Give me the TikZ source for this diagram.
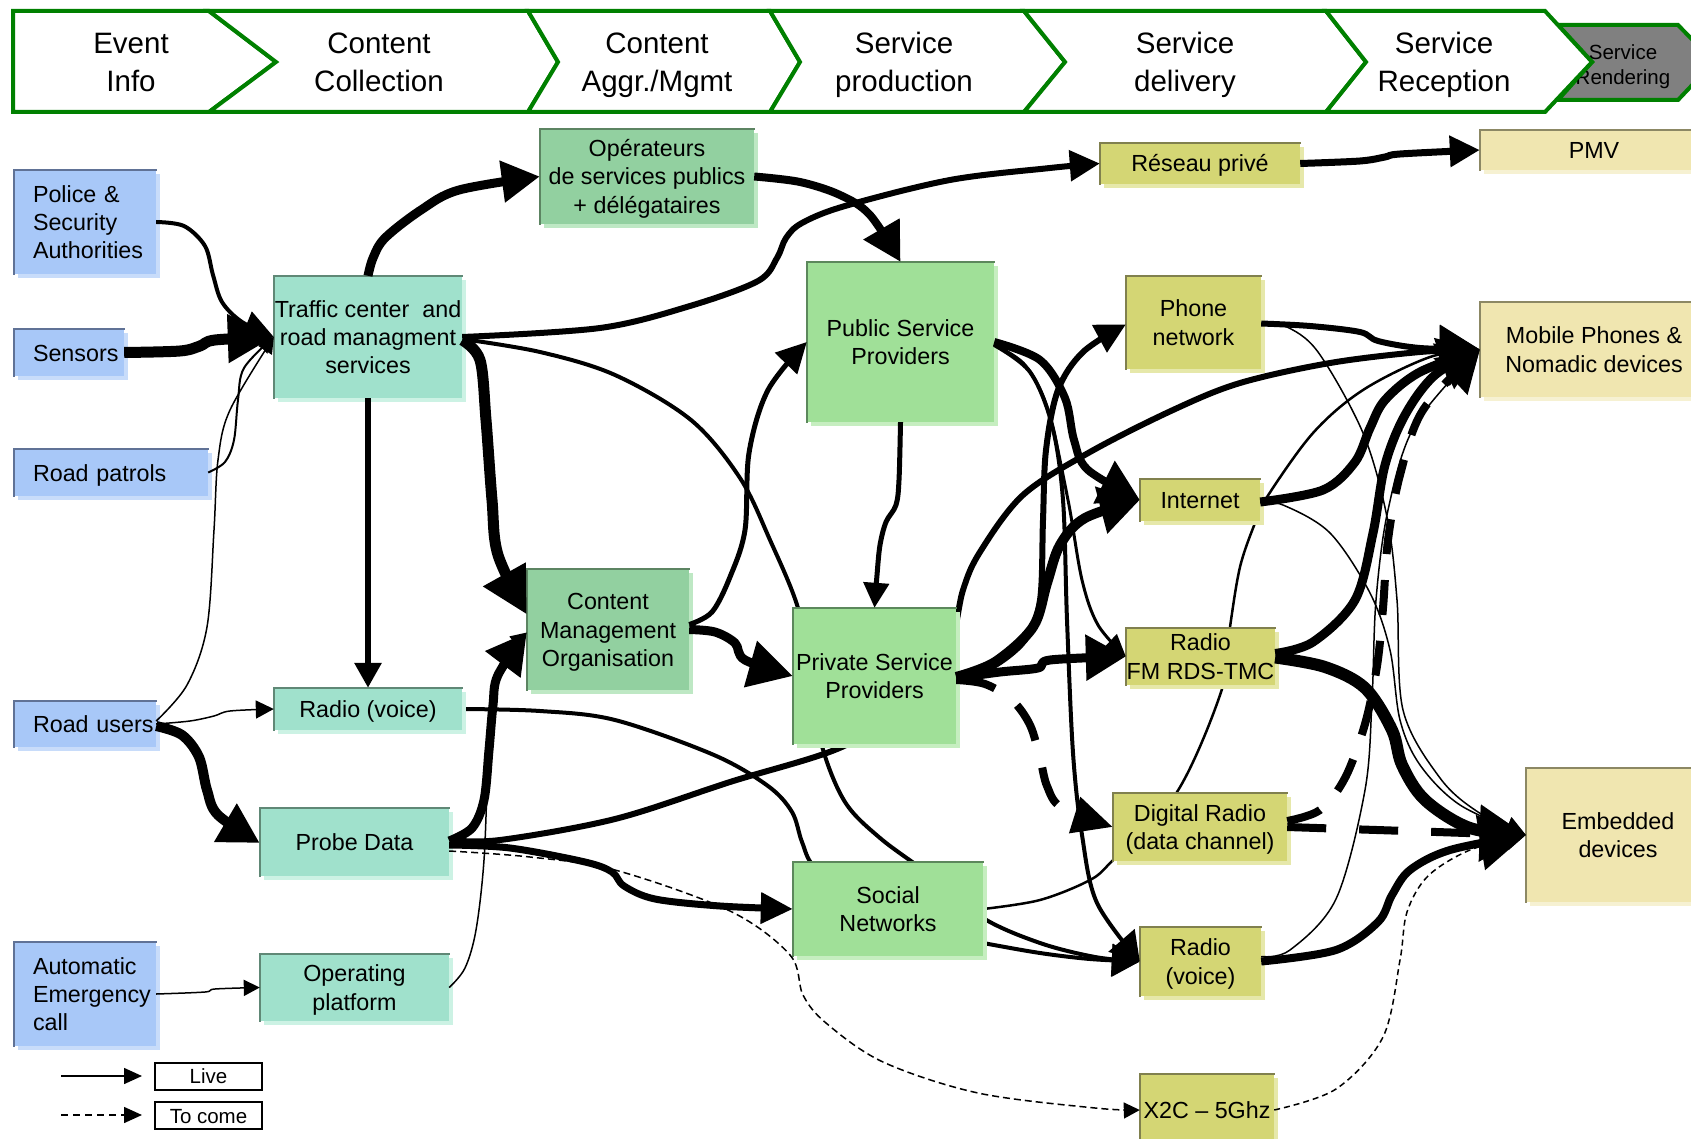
\documentclass[tikz,border=0pt]{standalone}
\usepackage{fontspec}
\setmainfont{Liberation Sans}
\usetikzlibrary{arrows.meta,shadows,calc}

\definecolor{hdrgreen}{RGB}{0,128,0}
\definecolor{hdrgray}{RGB}{128,128,128}
\definecolor{blueF}{RGB}{168,200,248}
\definecolor{blueS}{RGB}{200,220,250}
\definecolor{blueB}{RGB}{96,114,150}
\definecolor{tealF}{RGB}{160,225,204}
\definecolor{tealS}{RGB}{204,242,228}
\definecolor{tealB}{RGB}{96,136,118}
\definecolor{grnAF}{RGB}{146,208,160}
\definecolor{grnAS}{RGB}{190,232,196}
\definecolor{grnAB}{RGB}{92,132,98}
\definecolor{grnBF}{RGB}{160,224,152}
\definecolor{grnBS}{RGB}{198,238,192}
\definecolor{grnBB}{RGB}{92,136,92}
\definecolor{olvF}{RGB}{212,214,116}
\definecolor{olvS}{RGB}{230,232,170}
\definecolor{olvB}{RGB}{128,128,78}
\definecolor{palF}{RGB}{240,230,176}
\definecolor{palS}{RGB}{246,241,210}
\definecolor{palB}{RGB}{140,136,100}

\pgfdeclarelayer{behind}
\pgfsetlayers{behind,main}

\newcommand\bxfont{\fontsize{23.3}{28.3}\selectfont\hyphenpenalty=10000\exhyphenpenalty=10000}
\newcommand\hdfont{\fontsize{29.5}{38}\selectfont}
\newcommand\smfont{\fontsize{20.5}{25}\selectfont}

\tikzset{
  boxbase/.style={inner sep=0pt, font=\bxfont, align=center},
  colbox/.style n args={3}{boxbase, fill=#1,
    drop shadow={shadow xshift=4pt, shadow yshift=-4pt, fill=#2, opacity=1},
    append after command={
      (\tikzlastnode.south west) edge[draw=#3, fill=none, solid, line width=2.5pt, line cap=rect] (\tikzlastnode.north west)
      (\tikzlastnode.north west) edge[draw=#3, fill=none, solid, line width=2.5pt, line cap=rect] (\tikzlastnode.north east)}},
  bluebox/.style={colbox={blueF}{blueS}{blueB}, align=left, inner xsep=19pt},
  tealbox/.style={colbox={tealF}{tealS}{tealB}},
  grnAbox/.style={colbox={grnAF}{grnAS}{grnAB}},
  grnBbox/.style={colbox={grnBF}{grnBS}{grnBB}},
  olvbox/.style={colbox={olvF}{olvS}{olvB}},
  palbox/.style={colbox={palF}{palS}{palB}},
  % text block measured from the cap top of the first line to the last baseline
  one/.style={text height=17pt, text depth=0pt},
  two/.style={text height=45.3pt, text depth=0pt},
  three/.style={text height=73.6pt, text depth=0pt},
  % left-aligned blocks with a fixed width hang from their first baseline
  threeL/.style={text height=17pt, text depth=56.6pt},
  chev/.style={draw=hdrgreen, line width=4pt, fill=white, line join=miter},
  hdtext/.style={align=center, font=\hdfont, inner sep=0pt, text height=59pt, text depth=0pt},
  lgbox/.style={draw=black, line width=2pt, fill=white, minimum width=107pt,
    minimum height=27pt, inner sep=0pt, font=\smfont, text height=15pt, text depth=0pt},
  cn/.style={draw=black, fill=none, line cap=butt, line join=round},
  arrowhd/.style 2 args={-{Triangle[length=#1pt, width=#2pt]}},
  sm/.style={smooth, tension=0.55},
}

\begin{document}
\begin{tikzpicture}[x=1pt, y=-1pt]
\useasboundingbox (0,0) rectangle (1691,1139);
\begin{pgfonlayer}{behind}
  \fill[white] (0,0) rectangle (1691,1139);
\end{pgfonlayer}

% ---------- value chain header ----------
\path[chev, fill=hdrgray] (1558,25) -- (1678,25) -- (1714,62) -- (1678,100) -- (1558,100) -- (1592,62) -- cycle;
\node[align=center, font=\smfont, inner sep=0pt, text height=40pt, text depth=0pt] (hRend) at (1623,65) {Service\\Rendering};
\path[chev] (13,11) -- (209,11) -- (276,62) -- (209,112) -- (13,112) -- cycle;
\path[chev] (209,11) -- (528,11) -- (558,62) -- (528,112) -- (209,112) -- (276,62) -- cycle;
\path[chev] (528,11) -- (770,11) -- (800,62) -- (770,112) -- (528,112) -- (558,62) -- cycle;
\path[chev] (770,11) -- (1024,11) -- (1065,62) -- (1024,112) -- (770,112) -- (800,62) -- cycle;
\path[chev] (1024,11) -- (1326,11) -- (1366,62) -- (1326,112) -- (1024,112) -- (1065,62) -- cycle;
\path[chev] (1326,11) -- (1545,11) -- (1592,62) -- (1545,112) -- (1326,112) -- (1366,62) -- cycle;
\node[hdtext] (hEvent) at (131,62) {Event\\Info};
\node[hdtext] (hColl) at (379,62) {Content\\Collection};
\node[hdtext] (hAggr) at (657,62) {Content\\Aggr./Mgmt};
\node[hdtext] (hProd) at (904,62) {Service\\production};
\node[hdtext] (hDeliv) at (1185,62) {Service\\delivery};
\node[hdtext] (hRecep) at (1444,62) {Service\\Reception};

% ---------- sources ----------
\node[bluebox, threeL, text width=104pt, minimum height=104pt] (police) at (85,222) {Police \&\\Security\\Authorities};
\node[bluebox, one, text width=72pt, minimum height=47pt] (sensors) at (69,352.5) {Sensors};
\node[bluebox, one, text width=156pt, minimum height=47pt] (patrols) at (111,472.5) {Road~patrols};
\node[bluebox, one, text width=104pt, minimum height=46pt] (roadusers) at (85,724) {Road~users};
\node[bluebox, threeL, text width=104pt, minimum height=104pt] (aecall) at (85,994) {Automatic\\Emergency\\call};

% ---------- collection ----------
\node[tealbox, three, minimum width=188pt, minimum height=122pt] (traffic) at (368,337) {Traffic center\ \ and\\road managment\\services};
\node[tealbox, one, minimum width=188pt, minimum height=42pt] (radiol) at (368,709) {Radio (voice)};
\node[tealbox, one, minimum width=189pt, minimum height=68pt] (probe) at (354.5,842) {Probe Data};
\node[tealbox, two, minimum width=189pt, minimum height=67pt] (oplat) at (354.5,987.5) {Operating\\platform};

% ---------- aggregation / production ----------
\node[grnAbox, three, minimum width=214pt, minimum height=95pt] (operat) at (647,176.5) {Opérateurs\\de services publics\\+ délégataires};
\node[grnAbox, three, minimum width=162pt, minimum height=121pt] (cmo) at (608,629.5) {Content\\Management\\Organisation};
\node[grnBbox, two, minimum width=187pt, minimum height=160pt] (pubsp) at (900.5,342) {Public Service\\Providers};
\node[grnBbox, two, minimum width=163pt, minimum height=136pt] (privsp) at (874.5,676) {Private Service\\Providers};
\node[grnBbox, two, minimum width=190pt, minimum height=94pt] (social) at (888,909) {Social\\Networks};

% ---------- delivery ----------
\node[olvbox, one, minimum width=200pt, minimum height=41pt] (reseau) at (1200,163.5) {Réseau privé};
\node[olvbox, two, minimum width=135pt, minimum height=93pt] (phone) at (1193.5,322.5) {Phone\\network};
\node[olvbox, one, minimum width=120pt, minimum height=42pt] (internet) at (1200,500) {Internet};
\node[olvbox, two, minimum width=149pt, minimum height=57pt] (radiofm) at (1200.5,656.5) {Radio\\FM RDS-TMC};
\node[olvbox, two, minimum width=174pt, minimum height=68pt] (digital) at (1200,827) {Digital Radio\\(data channel)};
\node[olvbox, two, minimum width=121pt, minimum height=69pt] (radior) at (1200.5,961.5) {Radio\\(voice)};
\node[olvbox, one, minimum width=134pt, minimum height=72pt] (x2c) at (1207,1110) {X2C – 5Ghz};

% ---------- reception ----------
\node[palbox, one, minimum width=228pt, minimum height=40pt] (pmv) at (1594,150) {PMV};
\node[palbox, two, minimum width=228pt, minimum height=95pt] (mobile) at (1594,349.5) {Mobile Phones \&\\Nomadic devices};
\node[palbox, two, minimum width=184pt, minimum height=134pt] (embedded) at (1618,835) {Embedded\\devices};

% ---------- links running behind boxes ----------
\begin{pgfonlayer}{behind}
\draw[cn, line width=4pt, arrowhd={28}{32}] plot[sm] coordinates {($(traffic.east)+(0,2)$) (540,352) (615,375) (691,420) (740,478) (770,540) (798,608) (812,680) (822,746) (845,802) (880,838) (930,875) (983,918) (1040,943) (1095,957) (radior.west)};
\draw[cn, line width=4pt, arrowhd={28}{32}] plot[sm] coordinates {(radiol.east) (540,711) (615,720) (714,755) (768,786) (792,812) (802,842) (815,868) (860,905) (930,933) (983,943) (1040,953) (1090,959) (radior.west)};
\draw[cn, line width=6pt, arrowhd={40}{48}] plot[sm] coordinates {($(probe.east)+(0,-2)$) (500,840) (615,819) (730,782) (844,746) (905,700) (948,650) (963,590) (980,552) (1023,495) (1090,452) (1173,410) (1240,383) (1330,363) (1420,352) (mobile.west)};
\draw[cn, line width=2.5pt, arrowhd={20}{22}] plot[sm] coordinates {(social.east) (1040,900) (1090,880) (1113,860) (1177,792) (1222,689) (1230,627) (1240,567) (1255,523) (1267,497) (1313,433) (1363,390) (1430,357) (mobile.west)};
\end{pgfonlayer}

% ---------- into the traffic center ----------
\draw[cn, line width=4pt, arrowhd={30}{30}] plot[sm] coordinates {(police.east) (184,226) (205,246) (213,275) (222,302) (242,322) (traffic.west)};
\draw[cn, line width=11pt, arrowhd={46}{46}] plot[sm] coordinates {(sensors.east) (180,351) (200,346) (215,340) (traffic.west)};
\draw[cn, line width=2pt, arrowhd={16}{16}] plot[sm] coordinates {(patrols.east) (225,462) (234,440) (238,400) (244,368) (traffic.west)};
\draw[cn, line width=1.5pt, arrowhd={16}{16}] plot[sm] coordinates {($(roadusers.east)+(0,-3)$) (187,685) (207,627) (214,530) (218,460) (230,410) (traffic.west)};

% ---------- from the traffic center ----------
\draw[cn, line width=9pt, arrowhd={38}{40}] plot[sm] coordinates {(traffic.north) (373,258) (385,238) (421,210) (459,190) (operat.west)};
\draw[cn, line width=6pt, arrowhd={25}{26}] (traffic.south) -- (radiol.north);
\draw[cn, line width=11pt, arrowhd={46}{46}] plot[sm] coordinates {($(traffic.east)+(0,3)$) (480,360) (486,420) (492,500) (498,555) ($(cmo.west)+(0,-15)$)};
\draw[cn, line width=6pt, arrowhd={30}{30}] plot[sm] coordinates {(traffic.east) (600,328) (690,306) (758,281) (777,258) (786,238) (802,223) (845,206) (950,180) (1050,168) (reseau.west)};

% ---------- aggregation and production ----------
\draw[cn, line width=8pt, arrowhd={38}{40}] plot[sm] coordinates {(operat.east) (800,182) (840,195) (870,215) (pubsp.north)};
\draw[cn, line width=5pt, arrowhd={30}{30}] plot[sm] coordinates {($(cmo.east)+(0,-5)$) (712,612) (730,577) (745,530) (749,453) (768,390) (pubsp.west)};
\draw[cn, line width=9pt, arrowhd={44}{46}] plot[sm] coordinates {(cmo.east) (715,632) (735,643) (745,660) (privsp.west)};
\draw[cn, line width=5pt, arrowhd={25}{25}] plot[sm] coordinates {(pubsp.south) (899,480) (896,505) (886,522) (880,545) (877,575) (privsp.north)};
\draw[cn, line width=9pt, arrowhd={40}{42}] plot[sm] coordinates {($(probe.east)+(0,-1)$) (472,828) (484,800) (489,750) (493,705) (498,675) ($(cmo.west)+(0,3)$)};
\draw[cn, line width=1.5pt, arrowhd={16}{16}] plot[sm] coordinates {(oplat.east) (465,968) (476,930) (484,860) (488,760) (492,690) (505,655) ($(cmo.west)+(0,3)$)};
\draw[cn, line width=7pt, arrowhd={32}{30}] plot[sm] coordinates {($(probe.east)+(0,3)$) (510,848) (585,862) (612,872) (624,886) (655,899) (720,906) (social.west)};
\draw[cn, line width=1.5pt, dash pattern=on 7pt off 4pt, arrowhd={16}{16}] plot[sm] coordinates {($(probe.east)+(0,9)$) (530,857) (615,870) (730,911) (790,955) (803,995) (826,1023) (883,1062) (978,1093) (1095,1108) (x2c.west)};
\draw[cn, line width=1.5pt, arrowhd={18}{18}] plot[sm] coordinates {(roadusers.east) (190,721) (214,716) (230,711) (radiol.west)};
\draw[cn, line width=10pt, arrowhd={40}{42}] plot[sm] coordinates {($(roadusers.east)+(0,2)$) (182,735) (199,757) (207,790) (218,815) ($(probe.west)+(0,1)$)};
\draw[cn, line width=1.5pt, arrowhd={16}{16}] plot[sm] coordinates {(aecall.east) (205,992) (215,989) (oplat.west)};

% ---------- service production to delivery ----------
\draw[cn, line width=8pt, arrowhd={40}{46}] plot[sm] coordinates {(pubsp.east) (1040,360) (1065,398) (1074,440) (1088,470) (internet.west)};
\draw[cn, line width=3pt, arrowhd={22}{20}] plot[sm] coordinates {($(pubsp.east)+(0,3)$) (1025,365) (1048,410) (1068,500) (1082,580) (1098,625) (radiofm.west)};
\draw[cn, line width=4pt, arrowhd={28}{34}] plot[sm] coordinates {($(pubsp.east)+(0,3)$) (1030,372) (1052,425) (1063,500) (1067,620) (1073,753) (1082,835) (1097,903) (radior.west)};
\draw[cn, line width=6pt, arrowhd={30}{30}] plot[sm] coordinates {($(privsp.east)+(0,-1)$) (990,668) (1025,640) (1040,600) (1043,520) (1046,450) (1058,390) (1083,352) ($(phone.west)+(0,2)$)};
\draw[cn, line width=10pt, arrowhd={40}{46}] plot[sm] coordinates {($(privsp.east)+(0,1)$) (995,662) (1033,627) (1047,583) (1060,545) (1085,518) (internet.west)};
\draw[cn, line width=9pt, arrowhd={40}{44}] plot[sm] coordinates {($(privsp.east)+(0,2)$) (1000,672) (1038,668) (1050,660) (radiofm.west)};
\draw[cn, line width=8pt, dash pattern=on 40pt off 28pt, arrowhd={40}{36}] plot[sm] coordinates {($(privsp.east)+(0,4)$) (985,684) (1012,700) (1030,725) (1040,758) (1047,786) (1062,808) (digital.west)};
\draw[cn, line width=7pt, arrowhd={30}{30}] plot[sm] coordinates {(reseau.east) (1360,161) (1385,157) (1400,154) (pmv.west)};

% ---------- delivery to reception ----------
\draw[cn, line width=6pt, arrowhd={40}{48}] plot[sm] coordinates {($(phone.east)+(0,1)$) (1310,326) (1360,332) (1378,341) (1420,348) (mobile.west)};
\draw[cn, line width=1.5pt, arrowhd={20}{22}] plot[sm] coordinates {($(phone.east)+(0,1)$) (1285,326) (1318,352) (1363,433) (1387,517) (1397,600) (1403,710) (1440,778) (1478,812) (embedded.west)};
\draw[cn, line width=9pt, arrowhd={40}{48}] plot[sm] coordinates {($(internet.east)+(0,2)$) (1323,490) (1355,462) (1370,428) (1385,400) (1420,372) (mobile.west)};
\draw[cn, line width=1.5pt, arrowhd={20}{22}] plot[sm] coordinates {($(internet.east)+(0,3)$) (1283,505) (1330,533) (1370,593) (1390,650) (1400,720) (1420,765) (1460,805) (embedded.west)};
\draw[cn, line width=9pt, arrowhd={40}{48}] plot[sm] coordinates {($(radiofm.east)+(0,-3)$) (1313,642) (1355,600) (1373,533) (1385,465) (1405,415) (1435,375) (mobile.west)};
\draw[cn, line width=12pt, arrowhd={46}{54}] plot[sm] coordinates {($(radiofm.east)+(0,1)$) (1325,667) (1365,688) (1392,730) (1402,765) (1425,800) (1470,828) (embedded.west)};
\draw[cn, line width=8pt, dash pattern=on 35pt off 26pt, arrowhd={40}{48}] plot[sm] coordinates {($(digital.east)+(0,-6)$) (1320,810) (1345,778) (1365,724) (1377,666) (1383,608) (1388,540) (1400,475) (1423,410) (mobile.west)};
\draw[cn, line width=8pt, dash pattern=on 39pt off 33pt, arrowhd={46}{54}] (digital.east) -- (embedded.west);
\draw[cn, line width=8pt, arrowhd={46}{54}] plot[sm] coordinates {(radior.east) (1336,950) (1378,922) (1392,895) (1410,870) (1450,850) (embedded.west)};
\draw[cn, line width=1.5pt, arrowhd={20}{22}] plot[sm] coordinates {($(radior.east)+(0,-5)$) (1290,950) (1336,899) (1365,790) (1372,700) (1376,600) (1388,510) (1415,425) (mobile.west)};
\draw[cn, line width=1.5pt, dash pattern=on 6pt off 4pt, arrowhd={20}{22}] plot[sm] coordinates {(x2c.east) (1336,1089) (1383,1037) (1400,960) (1407,912) (1428,876) (1470,850) (embedded.west)};

% ---------- legend ----------
\coordinate (lgA) at (61,1076);
\coordinate (lgB) at (142,1076);
\coordinate (lgC) at (61,1115);
\coordinate (lgD) at (142,1115);
\draw[cn, line width=1.5pt, arrowhd={18}{16}] (lgA) -- (lgB);
\draw[cn, line width=1.5pt, dash pattern=on 7pt off 5pt, arrowhd={18}{16}] (lgC) -- (lgD);
\node[lgbox] (live) at (208.5,1076) {Live};
\node[lgbox] (tocome) at (208.5,1115.5) {To come};
\end{tikzpicture}
\end{document}
